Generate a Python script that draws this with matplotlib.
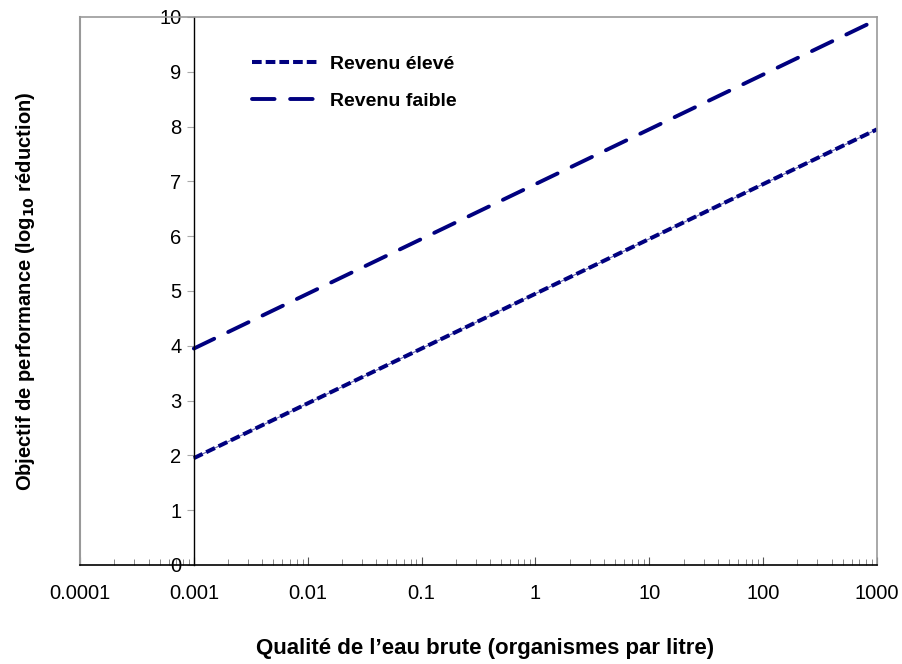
import numpy as np
import matplotlib.pyplot as plt
from matplotlib.ticker import LogLocator, FixedLocator, FixedFormatter

plt.rcParams['font.family'] = ['Liberation Sans', 'DejaVu Sans']

# données
qualite = [0.001, 0.01, 0.1, 1, 10, 100, 1000]
revenu_eleve = [1.95, 2.95, 3.95, 4.95, 5.95, 6.95, 7.95]
revenu_faible = [3.95, 4.95, 5.95, 6.95, 7.95, 8.95, 9.95]
xticks = [0.0001, 0.001, 0.01, 0.1, 1, 10, 100, 1000]
xlabels = ['0.0001', '0.001', '0.01', '0.1', '1', '10', '100', '1000']

fig = plt.figure(figsize=(9.02, 6.64), dpi=100)
ax = fig.add_axes([80/902, 1 - 565/664, (877 - 80)/902, (565 - 17)/664])

navy = '#00007f'
# trait fin sous les tirets courts (comme dans l'original)
ax.plot(qualite, revenu_eleve, color=navy, lw=0.8, alpha=0.6)
ax.plot(qualite, revenu_eleve, color=navy, lw=2.9, dashes=(2.4, 1.0),
        label='Revenu élevé', dash_capstyle='butt')
ax.plot(qualite, revenu_faible, color=navy, lw=2.8, dashes=(5.8, 4.0),
        label='Revenu faible', dash_capstyle='round')

ax.set_xscale('log')
ax.set_xlim(1e-4, 1e3)
ax.set_ylim(0, 10)

# cadre gris, axe vertical noir à 0.001
for s in ['top', 'right']:
    ax.spines[s].set_color('#999999')
    ax.spines[s].set_linewidth(1.2)
ax.spines['left'].set_position(('data', 0.001))
ax.spines['left'].set_color('black')
ax.spines['left'].set_linewidth(1.0)
ax.spines['bottom'].set_color('black')
ax.spines['bottom'].set_linewidth(1.2)
ax.plot([0, 0], [0, 1], transform=ax.transAxes, color='#999999', lw=1.5, clip_on=False)

ax.xaxis.set_major_locator(FixedLocator(xticks))
ax.xaxis.set_major_formatter(FixedFormatter(xlabels))
ax.xaxis.set_minor_locator(LogLocator(base=10, subs=np.arange(2, 10)))
ax.tick_params(axis='x', which='major', direction='in', length=6, pad=14,
               labelsize=14.5, color='#555555')
ax.tick_params(axis='x', which='minor', direction='in', length=4, color='#777777')
ax.set_yticks(range(0, 11))
ax.tick_params(axis='y', direction='out', length=5, pad=4, labelsize=14.5, color='#aaaaaa')

ax.set_xlabel('Qualité de l’eau brute (organismes par litre)', fontsize=16,
              fontweight='bold')
ax.xaxis.set_label_coords(0.508, -0.133)
ax.set_ylabel('Objectif de performance (log$_{\\mathbf{10}}$ réduction)', fontsize=14.5,
              fontweight='bold')
ax.yaxis.set_label_coords(-0.054, 0.5)

ax.legend(loc='upper left', bbox_to_anchor=(0.194, 0.962), frameon=False,
          prop={'weight': 'bold', 'size': 14}, handlelength=3.4, labelspacing=1.0,
          handletextpad=0.6)

fig.savefig('out.png', dpi=100)
